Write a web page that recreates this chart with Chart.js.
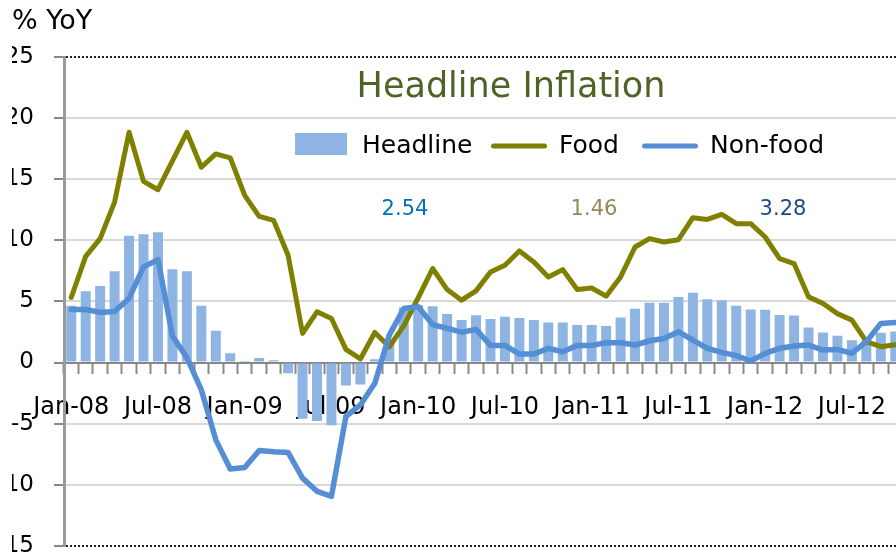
<!DOCTYPE html>
<html><head><meta charset="utf-8">
<script src="https://cdn.jsdelivr.net/npm/chart.js@4.4.1/dist/chart.umd.min.js"></script>
<style>html,body{margin:0;padding:0;overflow:hidden;background:#fff;width:896px;height:560px}canvas{display:block}</style>
</head><body>
<canvas id="c" width="904" height="560"></canvas>
<script>
const months = ['Jan-08','Feb-08','Mar-08','Apr-08','May-08','Jun-08','Jul-08','Aug-08','Sep-08','Oct-08','Nov-08','Dec-08',
'Jan-09','Feb-09','Mar-09','Apr-09','May-09','Jun-09','Jul-09','Aug-09','Sep-09','Oct-09','Nov-09','Dec-09',
'Jan-10','Feb-10','Mar-10','Apr-10','May-10','Jun-10','Jul-10','Aug-10','Sep-10','Oct-10','Nov-10','Dec-10',
'Jan-11','Feb-11','Mar-11','Apr-11','May-11','Jun-11','Jul-11','Aug-11','Sep-11','Oct-11','Nov-11','Dec-11',
'Jan-12','Feb-12','Mar-12','Apr-12','May-12','Jun-12','Jul-12','Aug-12','Sep-12','Oct-12'];

const headline = [4.64,5.84,6.27,7.47,10.38,10.49,10.65,7.63,7.47,4.64,2.60,0.75,
0.05,0.37,0.18,-0.88,-4.60,-4.78,-5.13,-1.89,-1.81,0.26,1.90,4.50,
4.70,4.60,3.96,3.47,3.86,3.55,3.74,3.65,3.47,3.28,3.28,3.06,
3.06,2.98,3.69,4.40,4.88,4.88,5.35,5.70,5.18,5.10,4.64,4.34,
4.32,3.88,3.84,2.87,2.46,2.18,1.82,1.80,2.43,2.54];

const food = [5.32,8.69,10.14,13.13,18.84,14.82,14.14,16.50,18.84,15.98,17.07,16.75,
13.67,11.96,11.63,8.78,2.38,4.15,3.60,1.07,0.29,2.46,1.29,3.00,
5.30,7.69,5.97,5.10,5.86,7.41,7.96,9.13,8.23,7.00,7.60,5.97,
6.10,5.43,7.00,9.45,10.14,9.86,10.05,11.85,11.71,12.12,11.36,11.36,
10.27,8.50,8.10,5.37,4.83,4.00,3.47,1.70,1.29,1.46];

const nonFood = [4.34,4.34,4.10,4.18,5.24,7.82,8.42,2.16,0.40,-2.24,-6.33,-8.72,
-8.59,-7.20,-7.30,-7.36,-9.46,-10.54,-10.95,-4.42,-3.47,-1.70,2.24,4.42,
4.56,3.10,2.79,2.48,2.71,1.40,1.40,0.69,0.69,1.16,0.88,1.40,
1.40,1.62,1.62,1.43,1.78,1.97,2.52,1.84,1.16,0.83,0.56,0.12,
0.75,1.16,1.35,1.43,1.02,1.07,0.75,1.70,3.20,3.28];

const seriesNames = ['Headline','Food','Non-food'];
const latestValues = ['2.54','1.46','3.28'];
const latestColors = ['#0070C0','#948A54','#1F497D'];
const chartTitle = 'Headline Inflation';
const axisTitle = '% YoY';
const yTicks = {min:-15, max:25, step:5};

const FONT = '"DejaVu Sans", sans-serif';
Chart.defaults.font.family = FONT;

const overlay = {
  id: 'overlay',
  afterDraw(chart) {
    const ctx = chart.ctx;
    const ds = chart.data.datasets;
    ctx.save();
    ctx.textBaseline = 'middle';
    ctx.textAlign = 'center';
    ctx.fillStyle = '#4F6228';
    ctx.font = '35px ' + FONT;
    ctx.fillText(chartTitle, 511, 88);
    const ly = 146;
    ctx.font = '25px ' + FONT;
    ctx.textAlign = 'left';
    ctx.fillStyle = ds[0].backgroundColor;
    ctx.fillRect(295, 133, 52, 22);
    ctx.fillStyle = '#000';
    ctx.fillText(ds[0].label, 362, ly);
    ctx.lineCap = 'round';
    ctx.lineWidth = 5;
    ctx.strokeStyle = ds[1].borderColor;
    ctx.beginPath(); ctx.moveTo(493.5, ly); ctx.lineTo(544.5, ly); ctx.stroke();
    ctx.fillText(ds[1].label, 559, ly);
    ctx.strokeStyle = ds[2].borderColor;
    ctx.beginPath(); ctx.moveTo(644.5, ly); ctx.lineTo(695.5, ly); ctx.stroke();
    ctx.fillText(ds[2].label, 710, ly);
    ctx.font = '21px ' + FONT;
    ctx.textAlign = 'center';
    const xs = [405, 594, 783];
    latestValues.forEach((t, i) => { ctx.fillStyle = latestColors[i]; ctx.fillText(t, xs[i], 210); });
    ctx.restore();
  }
};

new Chart(document.getElementById('c'), {
  type: 'bar',
  data: {
    labels: months,
    datasets: [
      { type: 'bar', label: seriesNames[0], data: headline, backgroundColor: '#8DB4E2',
        barPercentage: 0.69, categoryPercentage: 1.0, order: 3 },
      { type: 'line', label: seriesNames[1], data: food, borderColor: '#808000', borderWidth: 5,
        pointRadius: 0, tension: 0, borderJoinStyle: 'round', borderCapStyle: 'round', fill: false, order: 2 },
      { type: 'line', label: seriesNames[2], data: nonFood, borderColor: '#558ED5', borderWidth: 5.5,
        pointRadius: 0, tension: 0, borderJoinStyle: 'round', borderCapStyle: 'round', fill: false, order: 1 }
    ]
  },
  options: {
    responsive: false,
    animation: false,
    devicePixelRatio: 1,
    layout: { padding: { left: 12, right: 1.5, top: 0, bottom: 14.2 } },
    plugins: {
      legend: { display: false },
      tooltip: { enabled: false },
      title: { display: true, text: axisTitle, align: 'start', color: '#000',
        font: { size: 27, weight: 'normal' }, padding: { top: 6, bottom: 18.6 } }
    },
    scales: {
      x: {
        type: 'category',
        position: { y: 0 },
        offset: true,
        grid: { offset: true, drawOnChartArea: false, drawTicks: true, tickLength: 10, tickColor: '#888', tickWidth: 2 },
        border: { display: true, color: '#888', width: 2 },
        ticks: { autoSkip: false, maxRotation: 0, minRotation: 0, color: '#000', font: { size: 24 }, padding: 21,
          callback: (v, i) => (i % 6 === 0 ? months[i] : '') },
        afterFit: (s) => { s.height = 0; s.paddingLeft = 0; s.paddingRight = 0; }
      },
      y: {
        min: yTicks.min, max: yTicks.max,
        ticks: { stepSize: yTicks.step, color: '#000', font: { size: 23 }, padding: 20 },
        grid: {
          color: (c) => (c.tick && (c.tick.value === yTicks.max || c.tick.value === yTicks.min)) ? '#222' : (c.tick && c.tick.value === 0 ? '#888' : '#d9d9d9'),
          lineWidth: 2, tickLength: 10, tickColor: '#888', tickWidth: 2
        },
        border: { display: true, color: '#9a9a9a', width: 3,
          dash: (c) => (c.type === 'tick' && c.tick && (c.tick.value === yTicks.max || c.tick.value === yTicks.min)) ? [2, 2] : [] },
        afterFit: (s) => { s.width = 52; s.paddingTop = 0; s.paddingBottom = 0; }
      }
    }
  },
  plugins: [overlay]
});
</script>
</body></html>
